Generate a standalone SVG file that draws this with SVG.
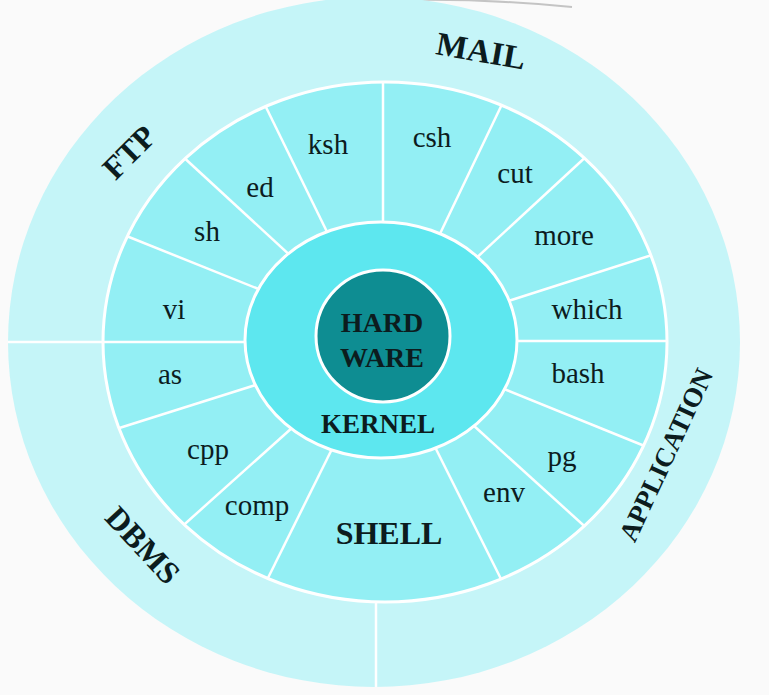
<svg xmlns="http://www.w3.org/2000/svg" width="769" height="695" viewBox="0 0 769 695">
<style>
text{font-family:"Liberation Serif","DejaVu Serif",serif;fill:#0c1c1e;text-anchor:middle}
.cmd{font-size:29px}
.b{font-weight:bold}
.spoke{stroke:#ffffff;stroke-width:2.5;fill:none}
</style>
<defs>
<clipPath id="midclip"><ellipse cx="385" cy="342" rx="282" ry="260"/></clipPath>
<clipPath id="outclip"><ellipse cx="374" cy="342" rx="366" ry="345"/></clipPath>
</defs>
<rect width="769" height="695" fill="#fafafa"/>
<path d="M372 1 Q470 -3 572 7" stroke="#c4c4c4" stroke-width="2" fill="none"/>

<g id="outer-ring">
<ellipse cx="374" cy="342" rx="366" ry="345" fill="#c5f5f8"/>
</g>
<g id="outer-dividers" clip-path="url(#outclip)">
<line class="spoke" x1="0" y1="342" x2="120" y2="342"/>
<line class="spoke" x1="376" y1="580" x2="376" y2="700"/>
</g>

<g id="shell-ring">
<ellipse cx="385" cy="342" rx="282" ry="260" fill="#93eff4" stroke="#ffffff" stroke-width="3"/>
</g>

<g id="connectors" clip-path="url(#midclip)">
<line class="spoke" x1="119" y1="233" x2="266" y2="292"/>
<line class="spoke" x1="180" y1="154" x2="294" y2="259"/>
<line class="spoke" x1="262" y1="99" x2="330" y2="238"/>
<line class="spoke" x1="383" y1="70" x2="383" y2="232"/>
<line class="spoke" x1="505" y1="98" x2="437" y2="240"/>
<line class="spoke" x1="590" y1="153" x2="472" y2="262"/>
<line class="spoke" x1="655" y1="254" x2="502" y2="303"/>
<line class="spoke" x1="680" y1="341" x2="505" y2="341"/>
<line class="spoke" x1="652" y1="449" x2="499" y2="387"/>
<line class="spoke" x1="592" y1="533" x2="473" y2="425"/>
<line class="spoke" x1="506" y1="589" x2="435" y2="447"/>
<line class="spoke" x1="263" y1="588" x2="332" y2="449"/>
<line class="spoke" x1="177" y1="531" x2="293" y2="427"/>
<line class="spoke" x1="113" y1="430" x2="262" y2="383"/>
<line class="spoke" x1="90" y1="342" x2="258" y2="342"/>
</g>

<g id="kernel">
<ellipse cx="381" cy="340" rx="136" ry="118" fill="#5de7ef" stroke="#ffffff" stroke-width="3"/>
<text class="b" x="378" y="433" font-size="27">KERNEL</text>
</g>

<g id="hardware">
<ellipse cx="383" cy="336" rx="67" ry="66" fill="#0e8d92" stroke="#ffffff" stroke-width="3"/>
<text class="b" x="382" y="332" font-size="28">HARD</text>
<text class="b" x="382" y="367" font-size="28">WARE</text>
</g>

<g id="cmd-ksh"><text class="cmd" x="328" y="154">ksh</text></g>
<g id="cmd-csh"><text class="cmd" x="432" y="147">csh</text></g>
<g id="cmd-ed"><text class="cmd" x="260" y="197">ed</text></g>
<g id="cmd-cut"><text class="cmd" x="515" y="183">cut</text></g>
<g id="cmd-sh"><text class="cmd" x="207" y="241">sh</text></g>
<g id="cmd-more"><text class="cmd" x="564" y="245">more</text></g>
<g id="cmd-vi"><text class="cmd" x="174" y="319">vi</text></g>
<g id="cmd-which"><text class="cmd" x="587" y="319">which</text></g>
<g id="cmd-as"><text class="cmd" x="170" y="384">as</text></g>
<g id="cmd-bash"><text class="cmd" x="578" y="383">bash</text></g>
<g id="cmd-cpp"><text class="cmd" x="208" y="459">cpp</text></g>
<g id="cmd-pg"><text class="cmd" x="562" y="466">pg</text></g>
<g id="cmd-comp"><text class="cmd" x="257" y="515">comp</text></g>
<g id="cmd-env"><text class="cmd" x="504" y="502">env</text></g>
<g id="shell"><text class="b" x="389" y="544" font-size="32">SHELL</text></g>

<g id="app-mail"><text class="b" font-size="33" transform="translate(481 51) rotate(10)" x="0" y="11">MAIL</text></g>
<g id="app-ftp"><text class="b" font-size="32" transform="translate(129 152) rotate(-45)" x="0" y="11">FTP</text></g>
<g id="app-dbms"><text class="b" font-size="32" transform="translate(143 545) rotate(47)" x="0" y="11">DBMS</text></g>
<g id="app-application"><text class="b" font-size="27" transform="translate(666 455) rotate(-65)" x="0" y="9">APPLICATION</text></g>
</svg>
